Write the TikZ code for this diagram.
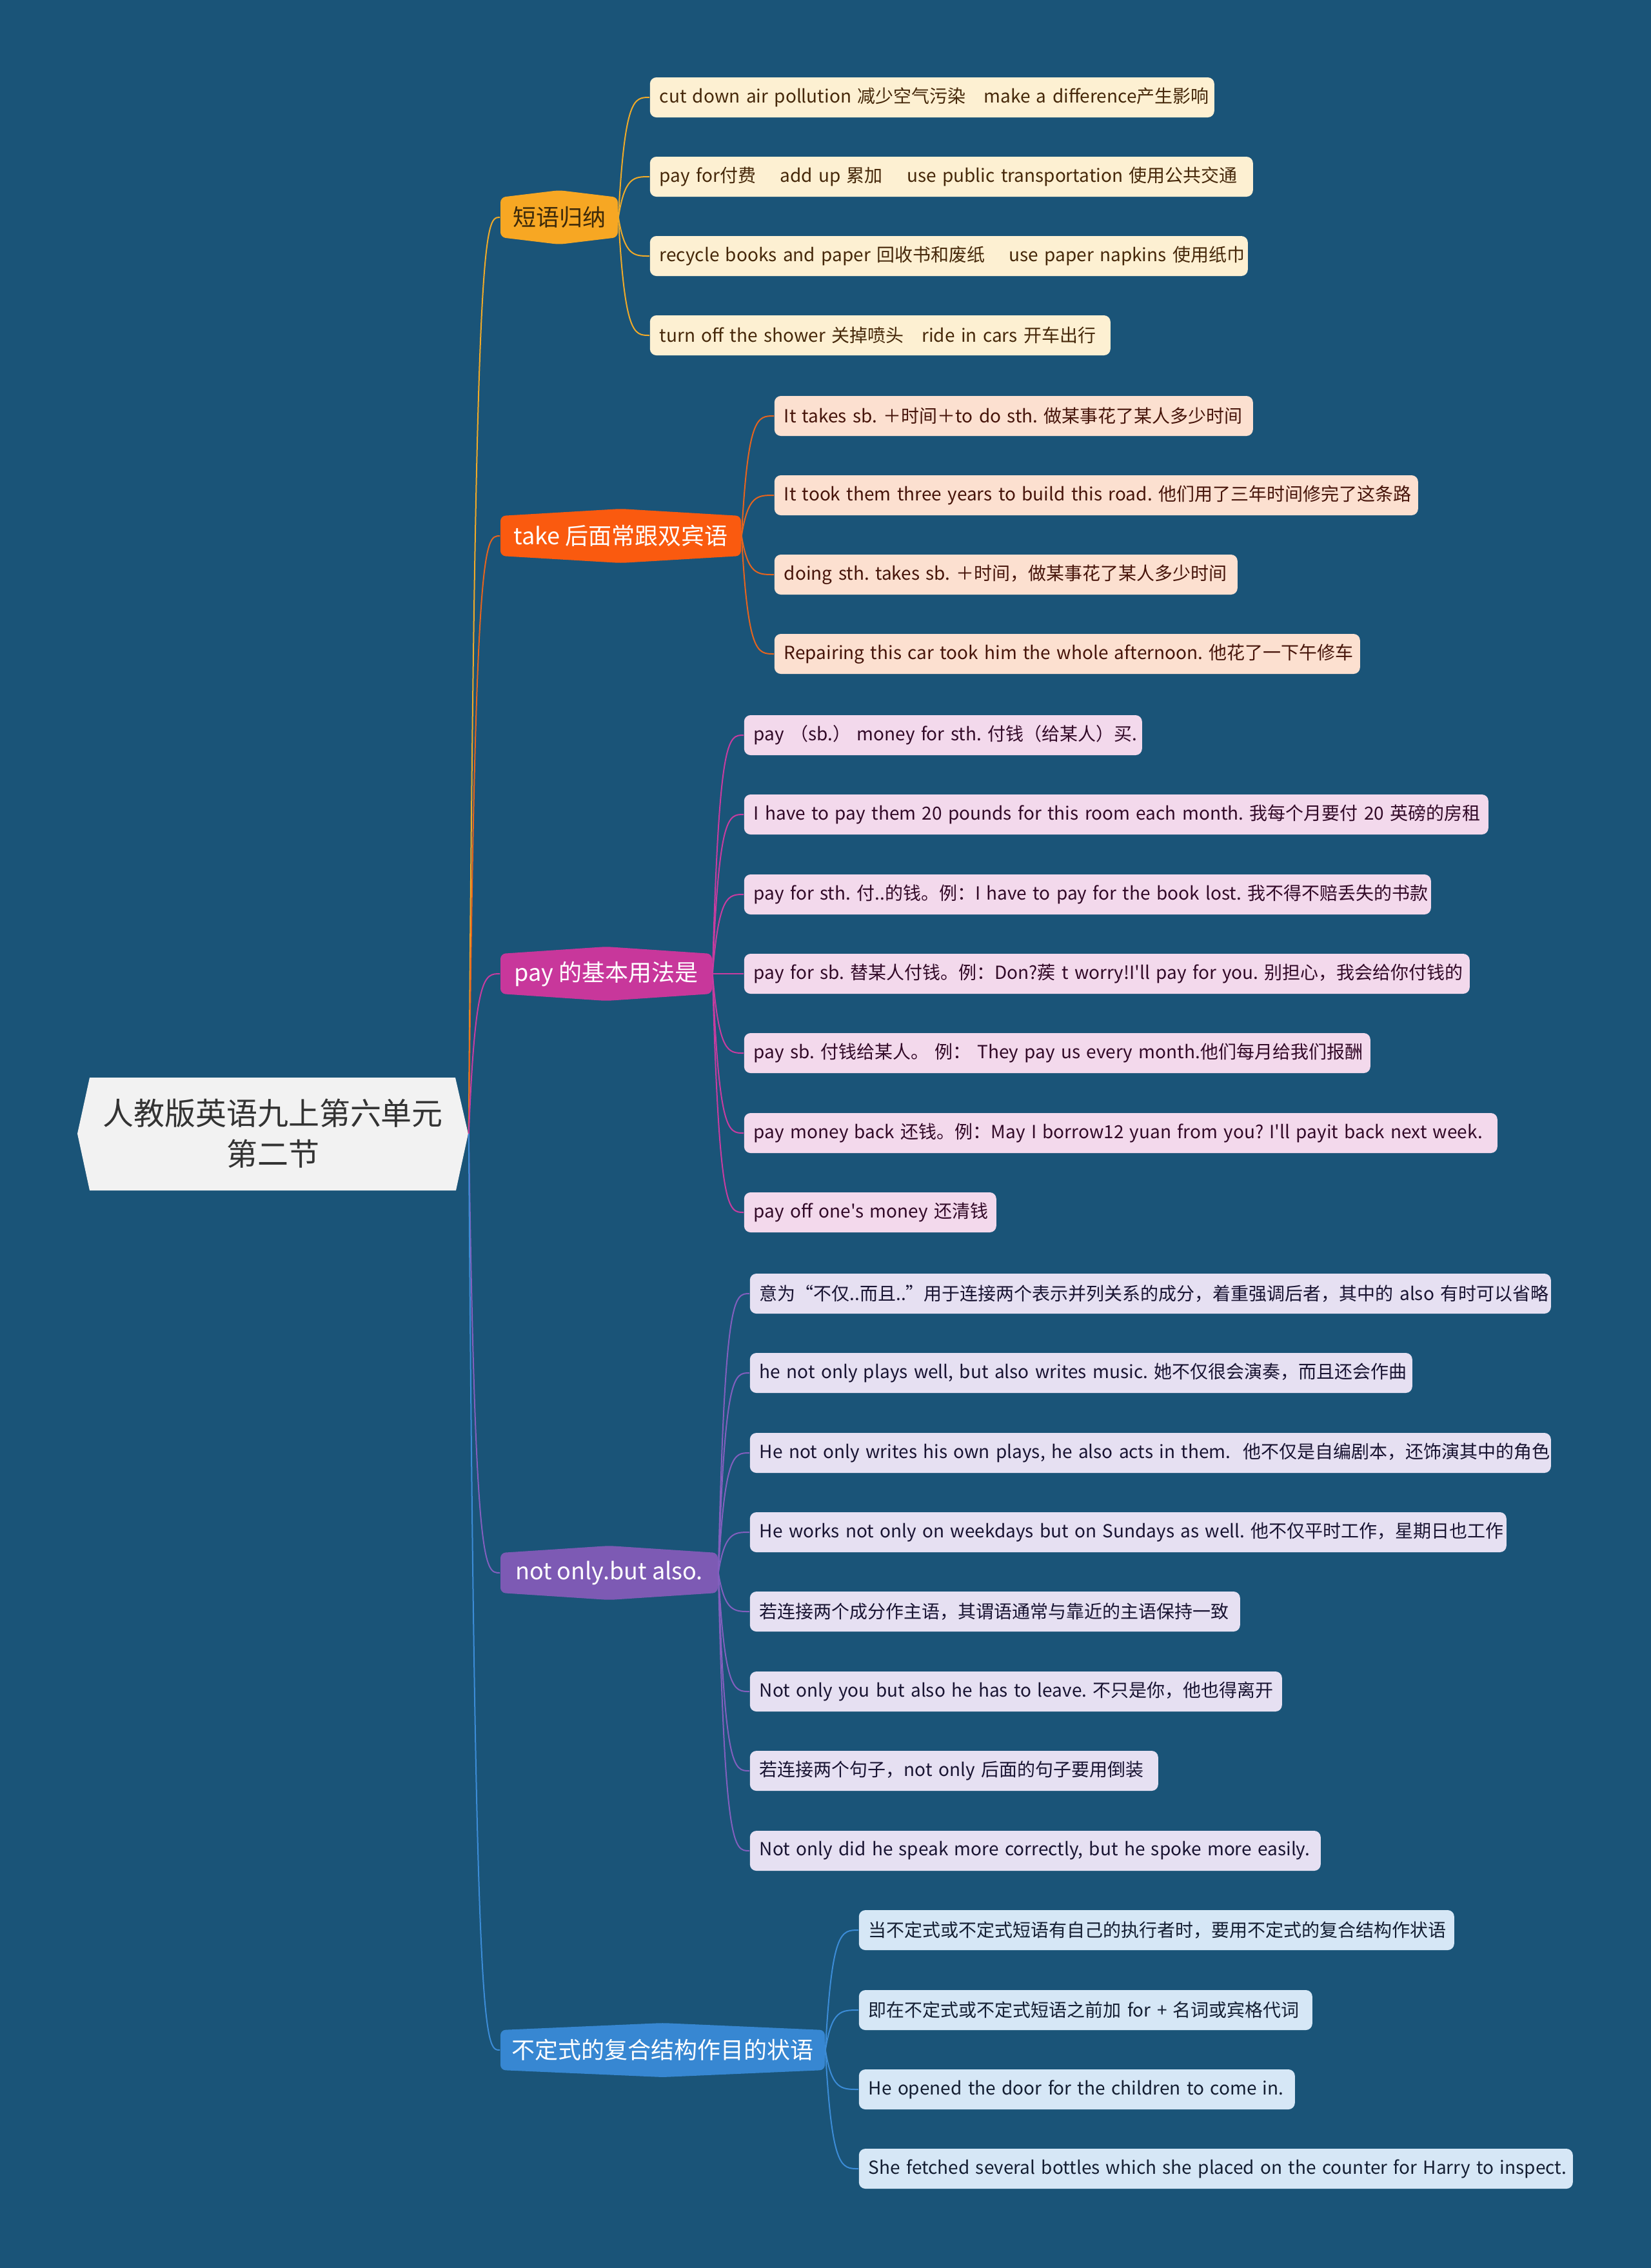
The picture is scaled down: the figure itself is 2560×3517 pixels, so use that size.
\documentclass[tikz,border=0pt]{standalone}
\usepackage{fontspec}
\newfontfamily\cjk{Noto Sans CJK SC}
\usetikzlibrary{calc}
\definecolor{bg}{RGB}{26,84,120}
\definecolor{rootfill}{RGB}{242,242,242}
\definecolor{roottext}{RGB}{51,51,51}
\definecolor{bA}{RGB}{247,167,35}
\definecolor{bB}{RGB}{250,90,15}
\definecolor{bC}{RGB}{200,55,155}
\definecolor{bD}{RGB}{125,90,180}
\definecolor{bE}{RGB}{55,135,210}
\definecolor{lA}{RGB}{240,170,40}
\definecolor{lB}{RGB}{230,100,30}
\definecolor{lC}{RGB}{200,60,160}
\definecolor{lD}{RGB}{130,95,190}
\definecolor{lE}{RGB}{60,140,215}
\definecolor{fA}{RGB}{253,240,210}
\definecolor{fB}{RGB}{252,224,208}
\definecolor{fC}{RGB}{243,217,236}
\definecolor{fD}{RGB}{230,224,242}
\definecolor{fE}{RGB}{214,231,246}
\definecolor{tA}{RGB}{70,40,10}
\definecolor{tB}{RGB}{70,20,10}
\definecolor{tC}{RGB}{50,10,40}
\definecolor{tD}{RGB}{25,20,50}
\definecolor{tE}{RGB}{20,30,50}
\definecolor{tBr}{RGB}{61,42,10}
\tikzset{
  leaf/.style={rounded corners=2.5pt, inner xsep=3.75pt, inner ysep=0pt,
    minimum height=15.5pt, font=\cjk\frenchspacing\fontsize{7}{8.4}\selectfont, align=left, anchor=west},
  brtext/.style={inner sep=0pt, minimum height=15.5pt, font=\cjk\fontsize{9}{11}\selectfont},
  con/.style={line width=0.5pt},
}
\newcommand\leafnode[7]{%
  \pgfmathsetlengthmacro\lw{0.25pt*(#4-#2-30)}%
  \node[leaf,fill=#5,text=#6,text width=\lw] (#1) at (#2,#3) {\mbox{#7}};}
\newcommand\branchnode[7]{%
  \fill[#5,rounded corners=2pt] (#2,#4-31) -- ({(#2+#3)/2},#4-42) -- (#3,#4-31)
     -- (#3,#4+31) -- ({(#2+#3)/2},#4+42) -- (#2,#4+31) -- cycle;
  \pgfmathsetlengthmacro\bw{0.25pt*(#3-#2)}%
  \node[brtext,text=#6,minimum width=\bw] (#1) at ({(#2+#3)/2},#4) {#7};}
\newcommand\link[3]{%
  \draw[con,#3] (#1.east) .. controls ([xshift=2.5pt]#1.east |- #2.west)
     and ([xshift=6pt]#1.east |- #2.west) .. (#2.west);}
\begin{document}
\begin{tikzpicture}[x=0.25pt,y=-0.25pt]
\fill[bg] (0,0) rectangle (2560,3517);
\useasboundingbox (0,0) rectangle (2560,3517);
% root
\fill[rootfill] (139,1671) -- (706,1671) -- (726,1758) -- (707,1846) -- (139,1846) -- (120,1758) -- cycle;
\node[minimum width=151.5pt, minimum height=43.75pt, inner sep=0pt, align=center,
  font=\cjk\fontsize{12}{15.75}\selectfont, text=roottext] (root) at (423,1758)
  {人教版英语九上第六单元\\第二节};
% branches
\branchnode{b1}{776}{958}{337}{bA}{tBr}{短语归纳}
\branchnode{b2}{776}{1149}{831}{bB}{white}{take 后面常跟双宾语}
\branchnode{b3}{776}{1104}{1510}{bC}{white}{pay 的基本用法是}
\branchnode{b4}{776}{1113}{2439}{bD}{white}{not only.but also.}
\branchnode{b5}{776}{1279}{3179}{bE}{white}{不定式的复合结构作目的状语}
% leaves of branch 1
\leafnode{a1}{1007}{151}{1882}{fA}{tA}{cut down air pollution 减少空气污染~~~make a difference产生影响}
\leafnode{a2}{1007}{274}{1942}{fA}{tA}{pay for付费~~~~add up 累加~~~~use public transportation 使用公共交通}
\leafnode{a3}{1007}{397}{1934}{fA}{tA}{recycle books and paper 回收书和废纸~~~~use paper napkins 使用纸巾}
\leafnode{a4}{1007}{520}{1721}{fA}{tA}{turn off the shower 关掉喷头~~~ride in cars 开车出行}
% leaves of branch 2
\leafnode{c1}{1200}{645}{1942}{fB}{tB}{It takes sb. ＋时间＋to do sth. 做某事花了某人多少时间}
\leafnode{c2}{1200}{768}{2198}{fB}{tB}{It took them three years to build this road. 他们用了三年时间修完了这条路}
\leafnode{c3}{1200}{891}{1918}{fB}{tB}{doing sth. takes sb. ＋时间，做某事花了某人多少时间}
\leafnode{c4}{1200}{1014}{2108}{fB}{tB}{Repairing this car took him the whole afternoon. 他花了一下午修车}
% leaves of branch 3
\leafnode{d1}{1153}{1140}{1770}{fC}{tC}{pay （sb.） money for sth. 付钱（给某人）买.}
\leafnode{d2}{1153}{1263}{2307}{fC}{tC}{I have to pay them 20 pounds for this room each month. 我每个月要付 20 英磅的房租}
\leafnode{d3}{1153}{1387}{2218}{fC}{tC}{pay for sth. 付..的钱。例：I have to pay for the book lost. 我不得不赔丢失的书款}
\leafnode{d4}{1153}{1510}{2278}{fC}{tC}{pay for sb. 替某人付钱。例：Don?蒺 t worry!I'll pay for you. 别担心，我会给你付钱的}
\leafnode{d5}{1153}{1633}{2124}{fC}{tC}{pay sb. 付钱给某人。 例： They pay us every month.他们每月给我们报酬}
\leafnode{d6}{1153}{1757}{2321}{fC}{tC}{pay money back 还钱。例：May I borrow12 yuan from you? I'll payit back next week.}
\leafnode{d7}{1153}{1880}{1544}{fC}{tC}{pay off one's money 还清钱}
% leaves of branch 4
\leafnode{e1}{1162}{2006}{2404}{fD}{tD}{意为“不仅..而且..”用于连接两个表示并列关系的成分，着重强调后者，其中的 also 有时可以省略}
\leafnode{e2}{1162}{2129}{2189}{fD}{tD}{he not only plays well, but also writes music. 她不仅很会演奏，而且还会作曲}
\leafnode{e3}{1162}{2253}{2404}{fD}{tD}{He not only writes his own plays, he also acts in them.~~他不仅是自编剧本，还饰演其中的角色}
\leafnode{e4}{1162}{2376}{2335}{fD}{tD}{He works not only on weekdays but on Sundays as well. 他不仅平时工作，星期日也工作}
\leafnode{e5}{1162}{2499}{1922}{fD}{tD}{若连接两个成分作主语，其谓语通常与靠近的主语保持一致}
\leafnode{e6}{1162}{2623}{1987}{fD}{tD}{Not only you but also he has to leave. 不只是你，他也得离开}
\leafnode{e7}{1162}{2746}{1795}{fD}{tD}{若连接两个句子，not only 后面的句子要用倒装}
\leafnode{e8}{1162}{2870}{2047}{fD}{tD}{Not only did he speak more correctly, but he spoke more easily.}
% leaves of branch 5
\leafnode{g1}{1331}{2993}{2254}{fE}{tE}{当不定式或不定式短语有自己的执行者时，要用不定式的复合结构作状语}
\leafnode{g2}{1331}{3117}{2034}{fE}{tE}{即在不定式或不定式短语之前加 for + 名词或宾格代词}
\leafnode{g3}{1331}{3240}{2007}{fE}{tE}{He opened the door for the children to come in.}
\leafnode{g4}{1331}{3363}{2438}{fE}{tE}{She fetched several bottles which she placed on the counter for Harry to inspect.}
% connectors
\link{root}{b1}{lA}
\link{root}{b2}{lB}
\link{root}{b3}{lC}
\link{root}{b4}{lD}
\link{root}{b5}{lE}
\foreach \n in {a1,a2,a3,a4} {\link{b1}{\n}{lA}}
\foreach \n in {c1,c2,c3,c4} {\link{b2}{\n}{lB}}
\foreach \n in {d1,d2,d3,d4,d5,d6,d7} {\link{b3}{\n}{lC}}
\foreach \n in {e1,e2,e3,e4,e5,e6,e7,e8} {\link{b4}{\n}{lD}}
\foreach \n in {g1,g2,g3,g4} {\link{b5}{\n}{lE}}
\end{tikzpicture}
\end{document}
